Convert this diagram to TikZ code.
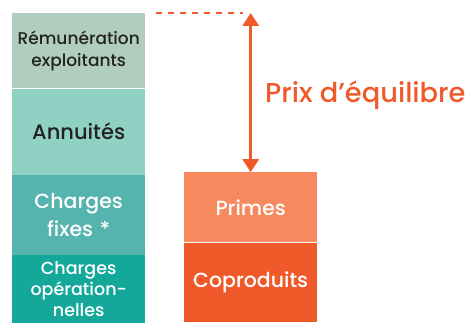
\documentclass[tikz,border=0pt]{standalone}
\usepackage{fontspec}
\setmainfont{Poppins}[UprightFont={* Medium}]
\usetikzlibrary{positioning,arrows.meta}
\definecolor{remu}{HTML}{B0CDBE}
\definecolor{annu}{HTML}{8FD2C4}
\definecolor{fixe}{HTML}{56B4AE}
\definecolor{oper}{HTML}{14A89A}
\definecolor{prim}{HTML}{F68A5E}
\definecolor{copr}{HTML}{F05A2A}
\definecolor{texte}{HTML}{222222}
\tikzset{bloc/.style={draw=none, minimum width=133pt, inner sep=0pt, align=center, text width=132pt}}
\begin{document}
\begin{tikzpicture}[x=1pt,y=1pt]
\useasboundingbox (0,0) rectangle (469,322);
% colonne des charges
\node[bloc, fill=remu, minimum height=75pt, text=texte, font=\fontsize{17}{22}\selectfont, anchor=north west] (R) at (12,309) {Rémunération\\exploitants};
\node[bloc, fill=annu, minimum height=86pt, text=texte, font=\fontsize{21}{26}\selectfont, below=0pt of R] (A) {Annuités};
\node[bloc, fill=fixe, minimum height=80pt, text=white, font=\fontsize{20.5}{28}\selectfont, below=0pt of A] (F) {Charges\\fixes *};
\node[bloc, fill=oper, minimum height=68pt, text=white, font=\fontsize{17.5}{21}\selectfont, below=0pt of F] (O) {Charges\\opération-\\nelles};
% colonne des produits
\node[bloc, fill=copr, minimum height=79pt, text=white, font=\fontsize{20.5}{24}\selectfont, anchor=south west] (C) at (184,0) {Coproduits};
\node[bloc, fill=prim, minimum height=70pt, text=white, font=\fontsize{20.5}{24}\selectfont, above=0pt of C] (P) {Primes};
% prix d'equilibre
\coordinate (T) at (P.north |- R.north);
\draw[copr, line width=2pt, dashed, dash pattern=on 6pt off 6pt] ([xshift=11pt]R.north east) -- ([xshift=-8pt]T);
\draw[copr, line width=3pt, {Triangle[width=16pt,length=13pt]}-{Triangle[width=16pt,length=13pt]}] (T) -- (P.north);
\node[text=copr, font=\fontsize{27.3}{30}\selectfont, anchor=west, inner sep=0pt] (E) at (265,227) {Prix d’équilibre};
\end{tikzpicture}
\end{document}
